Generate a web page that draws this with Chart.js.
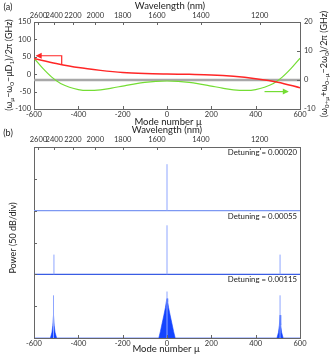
<!DOCTYPE html>
<html>
<head>
<meta charset="utf-8">
<script src="https://cdn.jsdelivr.net/npm/chart.js@4.4.0/dist/chart.umd.min.js"></script>
<style>
  html, body { margin: 0; padding: 0; background: #fff; }
  #wrap { position: relative; width: 331px; height: 355px; background: #fff; }
  canvas { position: absolute; left: 0; top: 0; }
</style>
</head>
<body>
<div id="wrap">
  <canvas id="chartA" width="331" height="355"></canvas>
  <canvas id="chartB" width="331" height="355"></canvas>
</div>
<script>
// ---- panel (a) data ----
const redMu = [-600, -500, -400, -300, -200, -100, 0, 100, 200, 300, 400, 500, 600]
const redShift = [45, 31, 19, 11, 5, 2, 0.5, -0.5, -2, -6, -13, -23, -39]
const greenMu = [-600, -560, -520, -480, -440, -400, -360, -300, -250, -200, -150, -100, -50, 0,
  50, 100, 150, 200, 250, 300, 360, 400, 440, 480, 520, 560, 600]
const greenAsym = [7.5, 4, 1, -1.2, -2.5, -3.3, -3.6, -3.4, -2.8, -2.1, -1.4, -0.8, -0.45, -0.35,
  -0.45, -0.8, -1.4, -2.1, -2.8, -3.4, -3.6, -3.3, -2.5, -1.2, 1, 4, 7.5]
const wavelengthTicks = [2600, 2400, 2200, 2000, 1800, 1600, 1400, 1200]

// ---- panel (b) data ----
const detuningLabels = ['Detuning = 0.00020', 'Detuning = 0.00055', 'Detuning = 0.00115']
const baseLevel = [200, 100, 0]            // dB offset of each trace (50 dB/div)
const lineMu1 = [0]
const linePow1 = [273]
const lineMu2 = [-510, 0, 510]
const linePow2 = [131, 177, 131]
const lineMu3 = [-512, 0, 510]
const linePow3 = [67, 73, 67]
const combMu3 = [-526, -519, -515, -512, -509, -505, -498,
  -37, -30, -22, -14, -7, -3, 0, 3, 7, 14, 22, 30, 37,
  496, 503, 507, 510, 513, 517, 524]
const combPow3 = [0, 9, 20, 36, 20, 9, 0,
  0, 10, 23, 36, 48, 57, 62, 57, 48, 36, 23, 10, 0,
  0, 9, 20, 36, 20, 9, 0]

// mode number <-> wavelength (~135 GHz FSR around 1549 nm)
const C_NM_THZ = 299792.458
const F0 = 193.49, FSR = 0.1348
const muOfWl = (wl) => (C_NM_THZ / wl - F0) / FSR
const wlOfMu = (mu) => C_NM_THZ / (F0 + mu * FSR)

const FONT = 'Lato'
Chart.defaults.font.family = FONT
Chart.defaults.font.size = 7.5
Chart.defaults.color = '#333'
const AXIS = '#666'

const pts = (xs, ys) => xs.map((x, i) => ({ x: x, y: ys[i] }))
const spikes = (xs, ys, base) => {
  const out = []
  xs.forEach((x, i) => { out.push({ x: x, y: base }, { x: x, y: ys[i] }, { x: x, y: null }) })
  return out
}

function fix(size, horiz) {
  return (s) => { if (horiz) s.height = size; else s.width = size }
}

function topWlAxis(h, pad) {
  return {
    type: 'linear', position: 'top', min: -600, max: 600,
    afterBuildTicks: (s) => { s.ticks = wavelengthTicks.map((w) => ({ value: muOfWl(w) })) },
    afterFit: fix(h, true),
    ticks: { autoSkip: false, maxRotation: 0, padding: pad, callback: (v) => String(Math.round(wlOfMu(v))) },
    grid: { drawOnChartArea: false, drawTicks: false },
    border: { color: AXIS, width: 1 }
  }
}

const inwardTicks = {
  id: 'inwardTicks',
  afterDatasetsDraw(chart, args, opts) {
    const ctx = chart.ctx, a = chart.chartArea
    ctx.save()
    ctx.strokeStyle = AXIS
    ctx.lineWidth = 1
    for (const id of opts.ids || []) {
      const s = chart.scales[id]
      s.ticks.forEach((t) => {
        const p = Math.round(s.getPixelForValue(t.value)) + 0.5
        ctx.beginPath()
        if (s.position === 'bottom') { ctx.moveTo(p, a.bottom); ctx.lineTo(p, a.bottom - 3) }
        else if (s.position === 'top') { ctx.moveTo(p, a.top); ctx.lineTo(p, a.top + 3) }
        else if (s.position === 'left') { ctx.moveTo(a.left, p); ctx.lineTo(a.left + 3, p) }
        else { ctx.moveTo(a.right, p); ctx.lineTo(a.right - 3, p) }
        ctx.stroke()
      })
    }
    ctx.restore()
  }
}

function drawRich(ctx, parts, cx, cy, size) {
  ctx.save()
  ctx.translate(cx, cy)
  ctx.rotate(-Math.PI / 2)
  const big = size + 'px ' + FONT, small = (size * 0.72) + 'px ' + FONT
  ctx.textAlign = 'left'
  ctx.textBaseline = 'alphabetic'
  let w = 0
  parts.forEach(([t, sub]) => { ctx.font = sub ? small : big; w += ctx.measureText(t).width })
  let x = -w / 2
  ctx.fillStyle = '#222'
  parts.forEach(([t, sub]) => {
    ctx.font = sub ? small : big
    ctx.fillText(t, x, sub ? size * 0.6 : size * 0.35)
    x += ctx.measureText(t).width
  })
  ctx.restore()
}

function text(ctx, s, x, y, size, align) {
  ctx.save()
  ctx.font = size + 'px ' + FONT
  ctx.fillStyle = '#222'
  ctx.textAlign = align || 'center'
  ctx.textBaseline = 'middle'
  ctx.fillText(s, x, y)
  ctx.restore()
}

function arrow(ctx, path, color, sx, sy) {
  const p = path.map(([x, y]) => [sx.getPixelForValue(x), sy.getPixelForValue(y)])
  ctx.save()
  ctx.strokeStyle = color
  ctx.fillStyle = color
  ctx.lineWidth = 1.2
  ctx.beginPath()
  p.forEach(([x, y], i) => (i ? ctx.lineTo(x, y) : ctx.moveTo(x, y)))
  ctx.stroke()
  const [x1, y1] = p[p.length - 2], [x2, y2] = p[p.length - 1]
  const ang = Math.atan2(y2 - y1, x2 - x1)
  ctx.translate(x2, y2)
  ctx.rotate(ang)
  ctx.beginPath()
  ctx.moveTo(1, 0); ctx.lineTo(-5, -3); ctx.lineTo(-5, 3); ctx.closePath()
  ctx.fill()
  ctx.restore()
}

// ---------- panel (a) ----------
const labelsA = {
  id: 'labelsA',
  afterDraw(chart) {
    const ctx = chart.ctx
    text(ctx, '(a)', 8, 7, 9)
    text(ctx, 'Wavelength (nm)', 170, 6, 9.5)
    text(ctx, 'Mode number \u03bc', 168, 122, 9.5)
    drawRich(ctx, [['(\u03c9', 0], ['\u03bc', 1], ['\u2212\u03c9', 0], ['0', 1], ['\u2212\u03bcD', 0], ['1', 1], [')/2\u03c0 (GHz)', 0]], 9, 65, 9)
    drawRich(ctx, [['(\u03c9', 0], ['0+\u03bc', 1], ['+\u03c9', 0], ['0\u2212\u03bc', 1], ['\u22122\u03c9', 0], ['0', 1], [')/2\u03c0 (GHz)', 0]], 324, 64, 9)
    const x = chart.scales.x
    arrow(ctx, [[-475, 29], [-475, 53], [-588, 53]], '#ff2626', x, chart.scales.y)
    arrow(ctx, [[440, -4], [545, -4]], '#74dd34', x, chart.scales.y2)
  }
}

new Chart(document.getElementById('chartA'), {
  type: 'line',
  data: {
    datasets: [
      { data: pts(redMu, redShift), yAxisID: 'y', borderColor: '#ff2626', borderWidth: 1.5,
        cubicInterpolationMode: 'monotone', pointRadius: 0, order: 1 },
      { data: pts(greenMu, greenAsym), yAxisID: 'y2', borderColor: '#74dd34', borderWidth: 1.2,
        cubicInterpolationMode: 'monotone', pointRadius: 0, order: 2 },
      { data: pts([-600, 600], [0, 0]), yAxisID: 'y2', borderColor: '#a8a8a8', borderWidth: 2.5,
        pointRadius: 0, order: 3 }
    ]
  },
  options: {
    responsive: false, animation: false, devicePixelRatio: 1,
    layout: { padding: 0 },
    plugins: { legend: { display: false }, tooltip: { enabled: false },
      inwardTicks: { ids: ['x', 'xTop', 'y', 'y2'] } },
    scales: {
      x: { type: 'linear', position: 'bottom', min: -600, max: 600, afterFit: fix(246, true),
        ticks: { stepSize: 200, padding: 1, maxRotation: 0 },
        grid: { drawOnChartArea: false, drawTicks: false }, border: { color: AXIS, width: 1 } },
      xTop: topWlAxis(22, 2),
      y: { position: 'left', min: -100, max: 150, afterFit: fix(34, false),
        ticks: { stepSize: 50, padding: 3 },
        grid: { drawOnChartArea: false, drawTicks: false }, border: { color: AXIS, width: 1 } },
      y2: { position: 'right', min: -10, max: 20, afterFit: fix(31, false),
        ticks: { stepSize: 10, padding: 4 },
        grid: { drawOnChartArea: false, drawTicks: false }, border: { color: AXIS, width: 1 } }
    }
  },
  plugins: [inwardTicks, labelsA]
})

// ---------- panel (b) ----------
const labelsB = {
  id: 'labelsB',
  afterDraw(chart) {
    const ctx = chart.ctx, y = chart.scales.y, right = chart.chartArea.right
    text(ctx, '(b)', 8, 133, 9)
    text(ctx, 'Wavelength (nm)', 167, 130, 9.5)
    text(ctx, 'Mode number \u03bc', 166, 349, 9.5)
    drawRich(ctx, [['Power (50 dB/div)', 0]], 13, 238, 9)
    detuningLabels.forEach((s, i) => text(ctx, s, right - 3, y.getPixelForValue(baseLevel[i] + 100) + 5.5, 7.8, 'right'))
  }
}

const spikeColor = '#8fa6ff'
new Chart(document.getElementById('chartB'), {
  type: 'line',
  data: {
    datasets: [
      { data: spikes(lineMu1, linePow1, baseLevel[0]), borderColor: spikeColor, borderWidth: 1 },
      { data: spikes(lineMu2, linePow2, baseLevel[1]), borderColor: spikeColor, borderWidth: 1 },
      { data: spikes(lineMu3, linePow3, baseLevel[2]), borderColor: spikeColor, borderWidth: 1 },
      { data: pts([-600, 600], [baseLevel[0], baseLevel[0]]), borderColor: '#7d98f2', borderWidth: 1.2 },
      { data: pts([-600, 600], [baseLevel[1], baseLevel[1]]), borderColor: '#3a5ce4', borderWidth: 1.2 },
      { data: [{ x: -600, y: baseLevel[2] }].concat(pts(combMu3, combPow3), [{ x: 600, y: baseLevel[2] }]),
        borderColor: '#1444ff', borderWidth: 0.6, backgroundColor: '#1444ff', fill: 'origin' }
    ].map((d) => Object.assign({ pointRadius: 0, spanGaps: false }, d))
  },
  options: {
    responsive: false, animation: false, devicePixelRatio: 1,
    layout: { padding: 0 },
    plugins: { legend: { display: false }, tooltip: { enabled: false }, filler: { propagate: false },
      inwardTicks: { ids: ['x', 'xTop', 'y'] } },
    scales: {
      x: { type: 'linear', position: 'bottom', min: -600, max: 600, afterFit: fix(17, true),
        ticks: { stepSize: 200, padding: 1, maxRotation: 0 },
        grid: { drawOnChartArea: false, drawTicks: false }, border: { color: AXIS, width: 1 } },
      xTop: topWlAxis(147, 3),
      y: { position: 'left', min: 0, max: 300, afterFit: fix(34, false),
        ticks: { stepSize: 50, display: false },
        grid: { drawOnChartArea: false, drawTicks: false }, border: { color: AXIS, width: 1 } },
      y2: { position: 'right', min: 0, max: 300, afterFit: fix(31, false),
        ticks: { display: false },
        grid: { drawOnChartArea: false, drawTicks: false }, border: { color: AXIS, width: 1 } }
    }
  },
  plugins: [inwardTicks, labelsB]
})
</script>
</body>
</html>
